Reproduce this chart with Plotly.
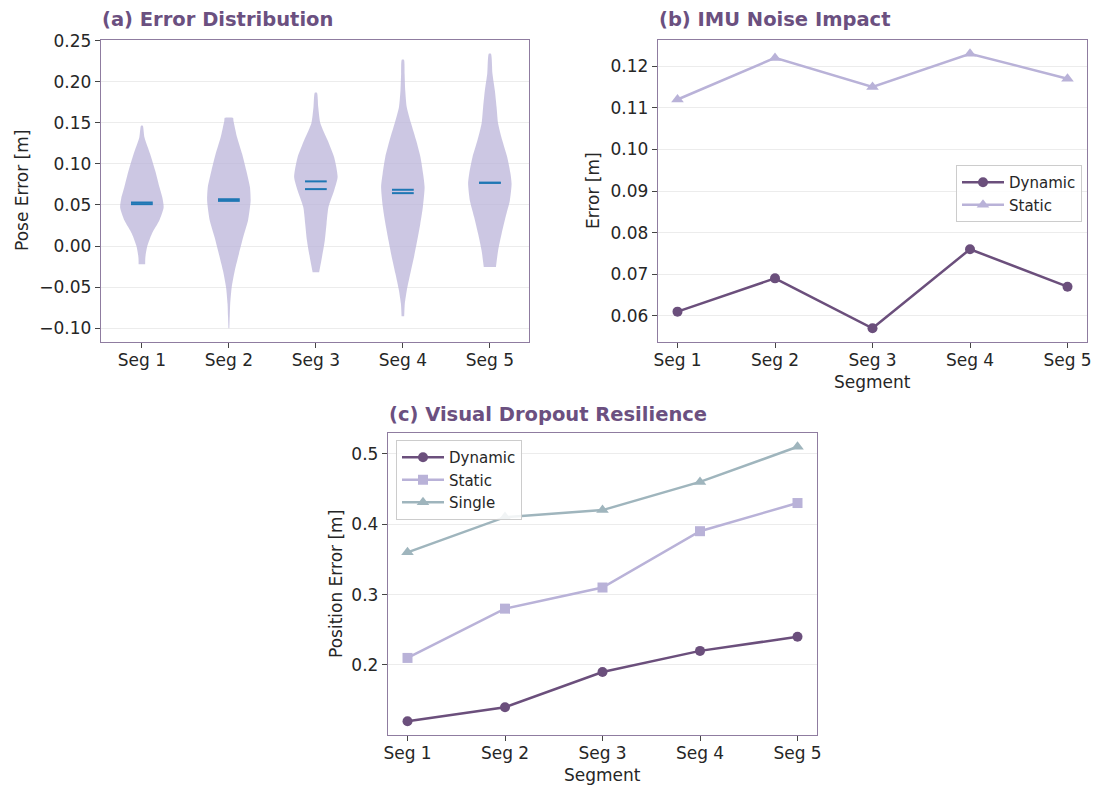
import plotly.graph_objects as go

# ---------------- data ----------------
segments = ["Seg 1", "Seg 2", "Seg 3", "Seg 4", "Seg 5"]
seg_pos = [1, 2, 3, 4, 5]

# (a) violin profiles: error levels and relative density
v1_levels = [-0.022, -0.0135, 0.0, 0.015, 0.031, 0.047, 0.058, 0.0715, 0.092, 0.112, 0.132, 0.1465]
v1_dens = [0.15, 0.16, 0.25, 0.46, 0.80, 1.00, 0.95, 0.81, 0.61, 0.38, 0.12, 0.04]
v2_levels = [-0.100, -0.085, -0.0705, -0.05, -0.03, -0.0096, 0.011, 0.031, 0.055, 0.0715, 0.092, 0.112, 0.132, 0.1526, 0.156]
v2_dens = [0.02, 0.04, 0.06, 0.13, 0.27, 0.46, 0.66, 0.88, 1.00, 0.97, 0.80, 0.61, 0.38, 0.21, 0.19]
v3_levels = [-0.0317, -0.0135, 0.0068, 0.027, 0.0474, 0.0677, 0.084, 0.108, 0.1286, 0.149, 0.169, 0.1866]
v3_dens = [0.15, 0.28, 0.41, 0.49, 0.58, 0.84, 1.00, 0.84, 0.54, 0.21, 0.11, 0.05]
v4_levels = [-0.0853, -0.070, -0.054, -0.0338, -0.0135, 0.0068, 0.027, 0.0474, 0.0718, 0.088, 0.108, 0.1286, 0.149, 0.169, 0.1894, 0.2097, 0.2268]
v4_dens = [0.06, 0.09, 0.18, 0.34, 0.51, 0.66, 0.80, 0.92, 1.00, 0.93, 0.81, 0.61, 0.38, 0.18, 0.11, 0.08, 0.05]
v5_levels = [-0.0256, -0.0053, 0.015, 0.0352, 0.0555, 0.0758, 0.088, 0.108, 0.1286, 0.149, 0.169, 0.1894, 0.2097, 0.234]
v5_dens = [0.28, 0.38, 0.54, 0.72, 0.92, 1.00, 0.95, 0.80, 0.57, 0.38, 0.31, 0.23, 0.12, 0.05]
err_means = [0.053, 0.057, 0.0787, 0.0685, 0.077]
err_medians = [0.051, 0.055, 0.0693, 0.0644, 0.0770]
a_ticks = [-0.10, -0.05, 0.00, 0.05, 0.10, 0.15, 0.20, 0.25]
a_ticktext = ["\u22120.10", "\u22120.05", "0.00", "0.05", "0.10", "0.15", "0.20", "0.25"]

# (b) IMU noise impact
imu_dynamic = [0.061, 0.069, 0.057, 0.076, 0.067]
imu_static = [0.112, 0.122, 0.115, 0.123, 0.117]

# (c) visual dropout resilience
vd_dynamic = [0.12, 0.14, 0.19, 0.22, 0.24]
vd_static = [0.21, 0.28, 0.31, 0.39, 0.43]
vd_single = [0.36, 0.41, 0.42, 0.46, 0.51]

# ---------------- style ----------------
W, H = 1096, 787
C_DYN = "#6b4f7c"
C_STA = "#b9b2d8"
C_SGL = "#9fb5bd"
C_TITLE = "#6b5080"
C_SPINE = "#8f7ca0"
C_TEXT = "#262626"
C_MEAN = "#1f77b4"
FONT = "DejaVu Sans"
VIOLIN_HALF = 0.25


def px_x(v):
    return v / W


def px_y(v):
    return 1 - v / H


fig = go.Figure()

# ---- (a) violins ----
profiles = [(v1_levels, v1_dens), (v2_levels, v2_dens), (v3_levels, v3_dens),
            (v4_levels, v4_dens), (v5_levels, v5_dens)]
for pos, (lv, dn) in zip(seg_pos, profiles):
    right_x = [pos + d * VIOLIN_HALF for d in dn]
    left_x = [pos - d * VIOLIN_HALF for d in dn]
    xs = right_x + left_x[::-1]
    ys = lv + lv[::-1]
    fig.add_trace(go.Scatter(
        x=xs, y=ys, mode="lines", fill="toself",
        fillcolor="rgba(185,178,216,0.72)",
        line=dict(width=0, color="rgba(185,178,216,0.72)", shape="spline", smoothing=0.6),
        hoverinfo="skip", showlegend=False, xaxis="x", yaxis="y"))

for pos, m in zip(seg_pos, err_means):
    fig.add_trace(go.Scatter(x=[pos - 0.125, pos + 0.125], y=[m, m], mode="lines",
                             line=dict(color=C_MEAN, width=2), showlegend=False,
                             xaxis="x", yaxis="y"))
for pos, m in zip(seg_pos, err_medians):
    fig.add_trace(go.Scatter(x=[pos - 0.125, pos + 0.125], y=[m, m], mode="lines",
                             line=dict(color=C_MEAN, width=2), showlegend=False,
                             xaxis="x", yaxis="y"))

# ---- (b) ----
fig.add_trace(go.Scatter(x=segments, y=imu_dynamic, mode="lines+markers", name="Dynamic",
                         line=dict(color=C_DYN, width=2.5),
                         marker=dict(symbol="circle", size=10, color=C_DYN),
                         xaxis="x2", yaxis="y2", legend="legend"))
fig.add_trace(go.Scatter(x=segments, y=imu_static, mode="lines+markers", name="Static",
                         line=dict(color=C_STA, width=2.5),
                         marker=dict(symbol="triangle-up", size=11, color=C_STA),
                         xaxis="x2", yaxis="y2", legend="legend"))

# ---- (c) ----
fig.add_trace(go.Scatter(x=segments, y=vd_dynamic, mode="lines+markers", name="Dynamic",
                         line=dict(color=C_DYN, width=2.5),
                         marker=dict(symbol="circle", size=10, color=C_DYN),
                         xaxis="x3", yaxis="y3", legend="legend2"))
fig.add_trace(go.Scatter(x=segments, y=vd_static, mode="lines+markers", name="Static",
                         line=dict(color=C_STA, width=2.5),
                         marker=dict(symbol="square", size=10, color=C_STA),
                         xaxis="x3", yaxis="y3", legend="legend2"))
fig.add_trace(go.Scatter(x=segments, y=vd_single, mode="lines+markers", name="Single",
                         line=dict(color=C_SGL, width=2.5),
                         marker=dict(symbol="triangle-up", size=11, color=C_SGL),
                         xaxis="x3", yaxis="y3", legend="legend2"))

base_axis = dict(showline=True, linecolor=C_SPINE, linewidth=1.4, mirror=True,
                 ticks="outside", ticklen=5, tickwidth=1, tickcolor="#444444",
                 tickfont=dict(family=FONT, size=17, color=C_TEXT),
                 zeroline=False, showgrid=False, automargin=False)
base_x = dict(base_axis, ticklabelstandoff=-3)
base_y = dict(base_axis, showgrid=True, gridcolor="#ececec", gridwidth=1)

dom_a_x = [px_x(101), px_x(529)]
dom_b_x = [px_x(658), px_x(1087)]
dom_c_x = [px_x(388), px_x(817)]
dom_top_y = [px_y(342), px_y(40)]
dom_bot_y = [px_y(735), px_y(433)]

legend_style = dict(xanchor="left", yanchor="top", bgcolor="rgba(255,255,255,0.85)",
                    bordercolor="#cccccc", borderwidth=1, itemwidth=42,
                    font=dict(family=FONT, size=15, color=C_TEXT), tracegroupgap=0)

fig.update_layout(
    width=W, height=H, margin=dict(l=0, r=0, t=0, b=0, pad=0, autoexpand=False),
    paper_bgcolor="white", plot_bgcolor="white",
    font=dict(family=FONT, color=C_TEXT),
    xaxis=dict(base_x, domain=dom_a_x, anchor="y", range=[0.53, 5.45],
               tickmode="array", tickvals=seg_pos, ticktext=segments),
    yaxis=dict(base_y, domain=dom_top_y, anchor="x", range=[-0.1167, 0.2507],
               tickmode="array", tickvals=a_ticks, ticktext=a_ticktext),
    xaxis2=dict(base_x, domain=dom_b_x, anchor="y2", range=[-0.2, 4.2], type="category"),
    yaxis2=dict(base_y, domain=dom_top_y, anchor="x2", range=[0.0537, 0.1263],
                dtick=0.01, tick0=0, tickformat=".2f"),
    xaxis3=dict(base_x, domain=dom_c_x, anchor="y3", range=[-0.2, 4.2], type="category"),
    yaxis3=dict(base_y, domain=dom_bot_y, anchor="x3", range=[0.1005, 0.5295],
                dtick=0.1, tick0=0, tickformat=".1f"),
    legend=dict(legend_style, x=px_x(956), y=px_y(165)),
    legend2=dict(legend_style, x=px_x(396), y=px_y(440)),
)

title_font = dict(family="DejaVu Sans", size=19.5, color=C_TITLE)
label_font = dict(family=FONT, size=17, color=C_TEXT)
annotations = [
    dict(text="<b>(a) Error Distribution</b>", x=px_x(100), y=px_y(20), xanchor="left",
         yanchor="middle", showarrow=False, font=title_font, xref="paper", yref="paper"),
    dict(text="<b>(b) IMU Noise Impact</b>", x=px_x(657), y=px_y(20), xanchor="left",
         yanchor="middle", showarrow=False, font=title_font, xref="paper", yref="paper"),
    dict(text="<b>(c) Visual Dropout Resilience</b>", x=px_x(387), y=px_y(414), xanchor="left",
         yanchor="middle", showarrow=False, font=title_font, xref="paper", yref="paper"),
    dict(text="Pose Error [m]", x=px_x(22), y=px_y(191), textangle=-90, showarrow=False,
         font=label_font, xref="paper", yref="paper", xanchor="center", yanchor="middle"),
    dict(text="Error [m]", x=px_x(593), y=px_y(191), textangle=-90, showarrow=False,
         font=label_font, xref="paper", yref="paper", xanchor="center", yanchor="middle"),
    dict(text="Segment", x=px_x(872), y=px_y(382), showarrow=False,
         font=label_font, xref="paper", yref="paper", xanchor="center", yanchor="middle"),
    dict(text="Position Error [m]", x=px_x(336), y=px_y(584), textangle=-90, showarrow=False,
         font=label_font, xref="paper", yref="paper", xanchor="center", yanchor="middle"),
    dict(text="Segment", x=px_x(602), y=px_y(775), showarrow=False,
         font=label_font, xref="paper", yref="paper", xanchor="center", yanchor="middle"),
]
fig.update_layout(annotations=annotations)

fig.write_html("out.html")
